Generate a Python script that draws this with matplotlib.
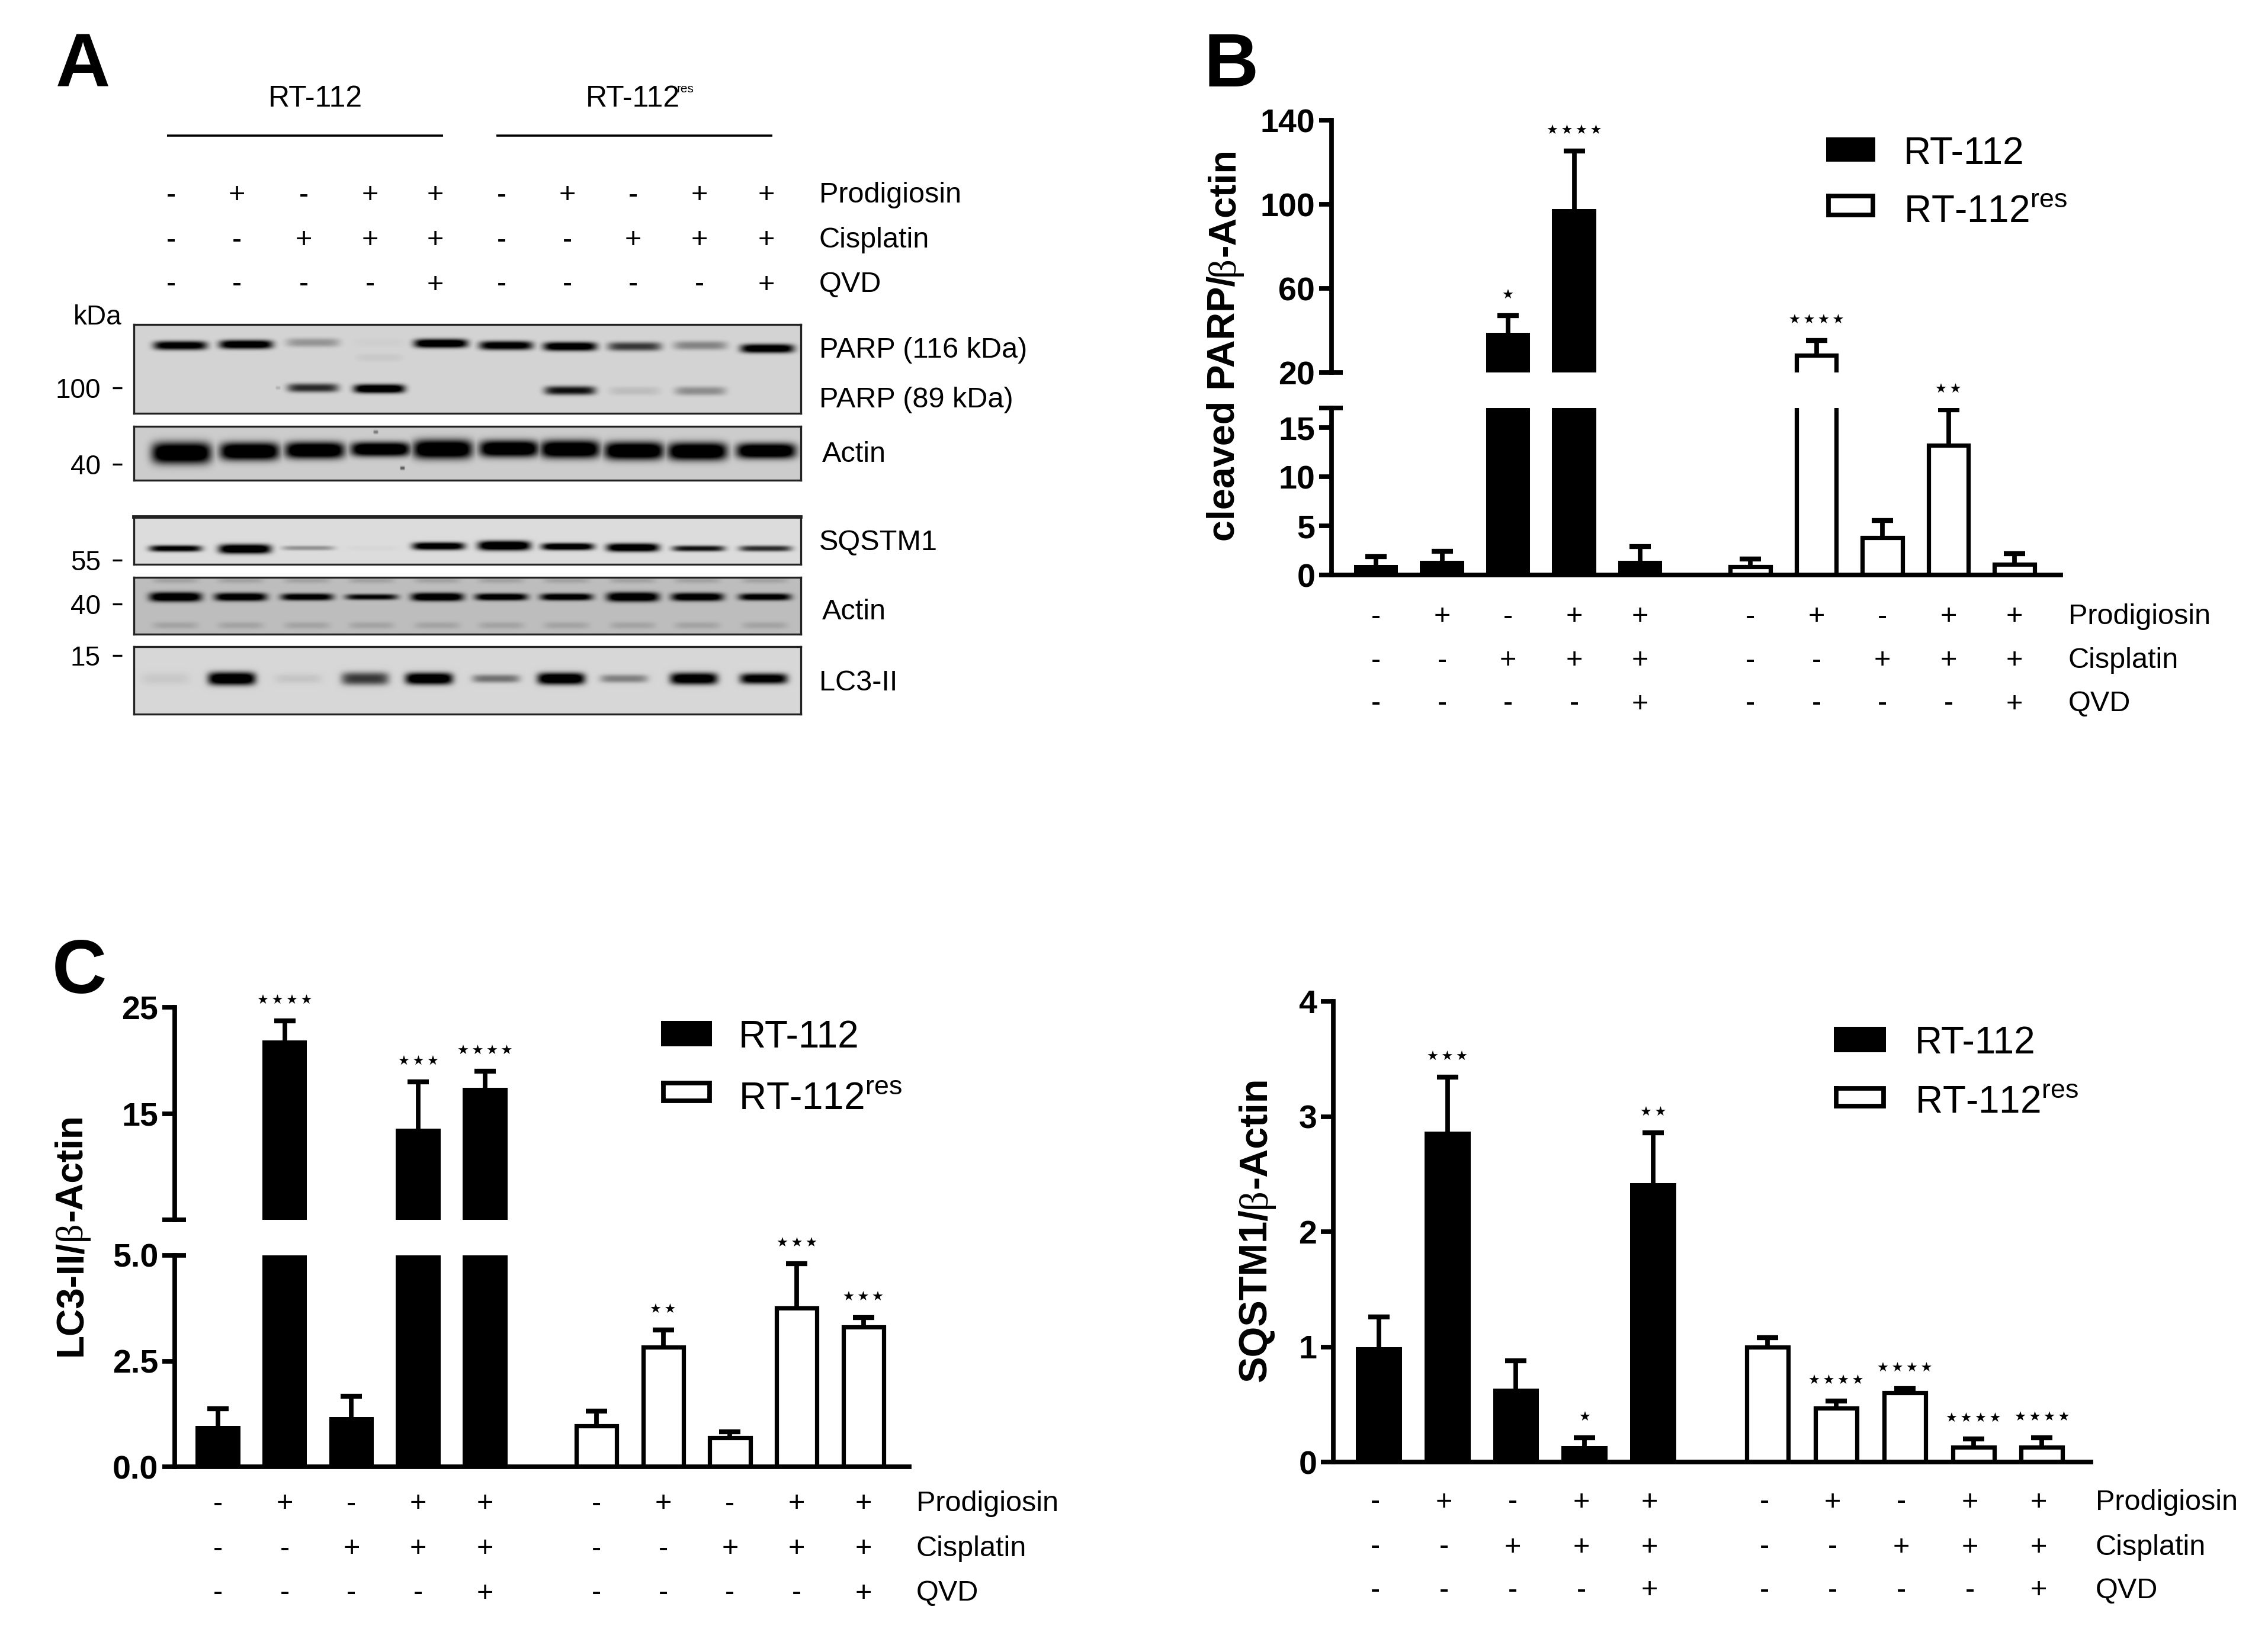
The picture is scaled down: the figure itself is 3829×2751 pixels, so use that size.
import numpy as np
import matplotlib
matplotlib.use("Agg")
import matplotlib.pyplot as plt
from matplotlib.transforms import blended_transform_factory

W, H = 3830, 2751
plt.rcParams['font.family'] = ['Liberation Sans', 'DejaVu Sans']

# ---- treatment rows
prodigiosin = ['-', '+', '-', '+', '+', '-', '+', '-', '+', '+']
cisplatin = ['-', '-', '+', '+', '+', '-', '-', '+', '+', '+']
qvd = ['-', '-', '-', '-', '+', '-', '-', '-', '-', '+']
row_names = ['Prodigiosin', 'Cisplatin', 'QVD']

# ---- panel B, cleaved PARP
parp_k = [1.0, 1.45, 38.8, 97.8, 1.45]
parp_k_err = [0.85, 0.95, 8.2, 27.6, 1.45]
parp_w = [0.85, 28.2, 3.8, 13.2, 1.1]
parp_w_err = [0.8, 7.0, 1.75, 3.6, 1.1]
parp_stars = [0, 0, 1, 4, 0, 0, 4, 0, 2, 0]

# ---- panel C, LC3-II
lc3_k = [0.97, 21.9, 1.17, 13.6, 17.4]
lc3_k_err = [0.4, 1.8, 0.5, 4.4, 1.6]
lc3_w = [0.97, 2.83, 0.69, 3.75, 3.31]
lc3_w_err = [0.35, 0.41, 0.13, 1.05, 0.22]
lc3_stars = [0, 4, 0, 3, 4, 0, 2, 0, 3, 3]

# ---- panel D, SQSTM1
sq_k = [1.0, 2.87, 0.64, 0.14, 2.42]
sq_k_err = [0.26, 0.47, 0.24, 0.07, 0.44]
sq_w = [1.0, 0.47, 0.6, 0.13, 0.13]
sq_w_err = [0.08, 0.06, 0.04, 0.07, 0.08]
sq_stars = [0, 3, 0, 1, 2, 0, 4, 4, 4, 4]

# ---- blot band strength per lane, 0 = nothing, 1 = black
band_parp116 = [0.85, 0.9, 0.22, 0.02, 0.95, 0.85, 0.9, 0.55, 0.28, 0.9]
band_parp89 = [0.0, 0.0, 0.6, 0.95, 0.0, 0.0, 0.7, 0.08, 0.25, 0.0]
band_actin1 = [1.0, 1.0, 1.0, 1.0, 1.0, 1.0, 1.0, 1.0, 1.0, 1.0]
band_sqstm1 = [0.8, 0.95, 0.25, 0.02, 0.9, 1.0, 0.92, 0.95, 0.7, 0.6]
band_actin2 = [0.95, 0.9, 0.85, 0.75, 0.95, 0.9, 0.88, 0.95, 0.9, 0.85]
band_lc3 = [0.05, 0.95, 0.06, 0.55, 0.95, 0.35, 0.95, 0.3, 0.9, 0.85]

group_x = [0, 1, 2, 3, 4, 5.67, 6.67, 7.67, 8.67, 9.67]

fig = plt.figure(figsize=(W / 100, H / 100), dpi=100, facecolor='white')


def px_axes(left, right, top, bottom):
    return fig.add_axes([left / W, 1 - bottom / H, (right - left) / W, (bottom - top) / H])


def draw_blot(top, bottom, bg, bands):
    # bands: (lane x, strengths, y fractions, half heights, half width)
    hh = int(bottom - top)
    ww = 1126
    yy, xx = np.mgrid[0:hh, 0:ww]
    dark = np.zeros((hh, ww))
    for lanes, strengths, yf, half_h, half_w in bands:
        yf = np.broadcast_to(yf, (len(lanes),))
        half_h = np.broadcast_to(half_h, (len(lanes),))
        for cx, s, f, h in zip(lanes, strengths, yf, half_h):
            prof = np.exp(-np.abs((xx - (cx - 226)) / half_w) ** 6) * np.exp(-np.abs((yy - f * hh) / h) ** 2.5)
            dark = np.maximum(dark, np.clip(s * 1.35 * prof, 0, 1))
    ax = px_axes(226, 1352, top, bottom)
    ax.imshow((1 - dark) * bg, cmap='gray', vmin=0, vmax=1, aspect='auto', interpolation='bilinear')
    ax.set_xticks([])
    ax.set_yticks([])
    for s in ax.spines.values():
        s.set_linewidth(2.4)
        s.set_color('#222222')
    return ax


lanes_parp = [304, 415, 528, 640, 744, 854, 962, 1071, 1182, 1295]
lanes_act1 = [306, 421, 531, 642, 747, 859, 962, 1070, 1177, 1293]
lanes_sq = [296, 413, 520, 629, 740, 851, 958, 1068, 1179, 1292]
lanes_act2 = [296, 406, 518, 627, 738, 846, 956, 1068, 1177, 1291]
lanes_lc3 = [279, 391, 503, 616, 724, 837, 947, 1053, 1171, 1289]

draw_blot(548, 698, 0.83, [
    (lanes_parp, band_parp116, [.233, .222, .2, .2, .21, .233, .244, .244, .233, .267], 7.5, 45),
    (lanes_parp, band_parp89, [.71, .71, .71, .72, .71, .74, .74, .745, .745, .74], 7.5, 43),
    (lanes_parp[3:4], [0.04], 0.37, 7, 40),
    ([469], [0.12], 0.71, 3, 4)])
draw_blot(720, 811, 0.80, [
    (lanes_act1, band_actin1, [.49, .46, .44, .42, .42, .41, .42, .45, .46, .45],
     [18, 15, 14, 12, 16, 14, 15, 15, 15, 13], 50),
    ([634], [0.3], 0.1, 3, 4), ([679], [0.4], 0.77, 3, 4)])
b3 = draw_blot(873, 953, 0.86, [
    (lanes_sq, band_sqstm1, [.66, .67, .65, .65, .61, .6, .62, .64, .66, .66], [5.5, 8, 4, 4, 6.5, 8, 6, 7, 5, 5], 44)])
b3.spines['top'].set_linewidth(4.2)
draw_blot(975, 1071, 0.74, [
    (lanes_act2, band_actin2, .34, [8, 7, 6, 5, 7, 6, 6, 8, 7, 6], 44),
    (lanes_act2, [0.1] * 10, 0.05, 5, 38),
    (lanes_act2, [0.1] * 10, 0.84, 6, 38)])
draw_blot(1092, 1206, 0.84, [
    (lanes_lc3, band_lc3, .47, [10, 11, 8, 11, 10, 7, 10, 7, 10, 9], 40)])

# overlay in reference pixels for the free text
ov = fig.add_axes([0, 0, 1, 1], zorder=5)
ov.set_xlim(0, W)
ov.set_ylim(H, 0)
ov.axis('off')
ov.patch.set_alpha(0)

SIGN = 35
ov.text(94, 146, 'A', fontsize=92, fontweight='bold', va='baseline', ha='left')
ov.text(2033, 146, 'B', fontsize=92, fontweight='bold', va='baseline', ha='left')
ov.text(88, 1677, 'C', fontsize=92, fontweight='bold', va='baseline', ha='left')

# panel A texts
ov.text(532, 167, 'RT-112', fontsize=36, ha='center', va='center')
ov.text(989, 167, 'RT-112', fontsize=36, ha='left', va='center')
ov.text(1143, 150, 'res', fontsize=15, ha='left', va='center')
ov.plot([282, 748], [229, 229], color='k', lw=2.6, solid_capstyle='butt')
ov.plot([838, 1304], [229, 229], color='k', lw=2.6, solid_capstyle='butt')

sign_a_x = [289, 400, 513, 625, 735, 847, 958, 1069, 1181, 1294]
for row, yy, name in zip([prodigiosin, cisplatin, qvd], [330, 406, 481], row_names):
    for xx, s in zip(sign_a_x, row):
        ov.text(xx, yy, s, fontsize=SIGN, ha='center', va='center')
    ov.text(1383, yy, name, fontsize=SIGN, ha='left', va='center')

ov.text(206, 536, 'kDa', fontsize=33, ha='right', va='center')
for lab, yy in zip(['100', '40', '55', '40', '15'], [660, 789, 951, 1025, 1112]):
    ov.text(170, yy, lab, fontsize=33, ha='right', va='center')
    ov.plot([190, 206], [yy - 5, yy - 5], color='k', lw=2.4, solid_capstyle='butt')
for lab, xx, yy in [('PARP (116 kDa)', 1383, 591), ('PARP (89 kDa)', 1383, 675), ('Actin', 1388, 768),
                    ('SQSTM1', 1383, 917), ('Actin', 1388, 1033), ('LC3-II', 1383, 1154)]:
    ov.text(xx, yy, lab, fontsize=SIGN, ha='left', va='center')


def ylabel_parts(x, y_bottom, before, after, size):
    # beta comes from a serif regular face, the rest is bold
    r = fig.canvas.get_renderer()
    y = y_bottom
    for txt, weight, fam in [(before, 'bold', 'Liberation Sans'), ('\u03b2', 'normal', 'Liberation Serif'),
                             (after, 'bold', 'Liberation Sans')]:
        t = ov.text(x, y, txt, fontsize=size, fontweight=weight, family=fam, rotation=90, ha='center', va='bottom')
        y -= t.get_window_extent(r).height


LW = 5.6


def panel_axes_style(ax, ticks, labels):
    ax.spines['top'].set_visible(False)
    ax.spines['right'].set_visible(False)
    ax.spines['left'].set_linewidth(LW)
    ax.spines['bottom'].set_linewidth(LW)
    ax.set_xticks([])
    ax.set_yticks(ticks, labels)
    ax.tick_params(axis='y', length=15, width=LW, pad=5, labelsize=40)
    for lab in ax.get_yticklabels():
        lab.set_fontweight('bold')
    ax.patch.set_alpha(0)


def draw_bars(ax, k, k_err, w, w_err, lo=0):
    xk, xw = group_x[:5], group_x[5:]
    ax.bar(xk, k, width=0.67, color='k', linewidth=0)
    for xs, vals, errs in [(xk, k, k_err), (xw, w, w_err)]:
        # whiskers that end below this axis part belong to the other part
        keep = [i for i in range(5) if vals[i] + errs[i] >= lo]
        if not keep:
            continue
        cont = ax.errorbar([xs[i] for i in keep], [vals[i] for i in keep],
                           yerr=[[0] * len(keep), [errs[i] for i in keep]], fmt='none', ecolor='k',
                           elinewidth=LW, capsize=13.3, capthick=LW + 0.4)
        cont[1][0].remove()  # only the upper cap stays
    ax.bar(xw, w, width=0.605, color='white', edgecolor='k', linewidth=LW - 0.4)


def draw_stars(axes_by_limit, k, k_err, w, w_err, stars):
    tops = [a + b for a, b in zip(k + w, k_err + w_err)]
    for xx, top, n in zip(group_x, tops, stars):
        if n == 0:
            continue
        ax = axes_by_limit[0]
        for a in axes_by_limit:
            if top >= a.get_ylim()[0]:
                ax = a
        ax.annotate('\u2009'.join('\u2605' * n), (xx, top), xytext=(0, 24.5), textcoords='offset points', ha='center',
                    va='center', fontsize=16, family='DejaVu Sans', annotation_clip=False)


def draw_signs(ax, rows_y, label_x, dx=0):
    tr = blended_transform_factory(ax.transData, ov.transData)
    for row, yy, name in zip([prodigiosin, cisplatin, qvd], rows_y, row_names):
        for xx, s in zip(group_x, row):
            ov.text(xx + dx, yy, s, fontsize=SIGN, ha='center', va='center', transform=tr)
        ov.text(label_x, yy, name, fontsize=SIGN, ha='left', va='center')


def draw_legend(x0, x1, y_k, y_w, text_x, text_y):
    ov.fill_between([x0, x1], y_k[0], y_k[1], color='k', linewidth=0)
    ov.plot([x0 + 4, x1 - 4, x1 - 4, x0 + 4, x0 + 4], [y_w[0] + 4, y_w[0] + 4, y_w[1] - 4, y_w[1] - 4, y_w[0] + 4],
            color='k', lw=LW, solid_joinstyle='miter')
    ov.text(text_x, text_y[0], 'RT-112', fontsize=46, ha='left', va='center')
    ov.text(text_x, text_y[1], 'RT-112$^{\\mathregular{res}}$', fontsize=46, ha='left', va='center')


def broken_panel(left, right, y_px, up_lim, low_lim, up_ticks, up_labels, low_ticks, low_labels, x_first, x_step,
                 k, k_err, w, w_err, stars):
    # y_px: top of upper, bottom of upper, top of lower, zero line
    xlim = ((left - x_first) / x_step, (right - x_first) / x_step)
    up = px_axes(left, right, y_px[0], y_px[1])
    low = px_axes(left, right, y_px[2], y_px[3])
    for ax, lim, ticks, labels in [(up, up_lim, up_ticks, up_labels), (low, low_lim, low_ticks, low_labels)]:
        draw_bars(ax, k, k_err, w, w_err, lo=lim[0])
        ax.set_xlim(*xlim)
        ax.set_ylim(*lim)
        panel_axes_style(ax, ticks, labels)
    up.spines['bottom'].set_visible(False)
    # caps on the two sides of the axis break
    up.yaxis.remove_overlapping_locs = False
    low.yaxis.remove_overlapping_locs = False
    up.set_yticks([up_lim[0]], minor=True)
    low.set_yticks([low_lim[1]], minor=True)
    for ax in (up, low):
        ax.tick_params(axis='y', which='minor', direction='in', length=14, width=LW)
    draw_stars([low, up], k, k_err, w, w_err, stars)
    return up, low


# panel B
b_up, b_low = broken_panel(2248, 3479, (203, 629, 689, 971), (20, 140), (0, 17),
                           [20, 60, 100, 140], ['20', '60', '100', '140'],
                           [0, 5, 10, 15, 17], ['0', '5', '10', '15', ''], 2323, 111.5,
                           parp_k, parp_k_err, parp_w, parp_w_err, parp_stars)
draw_signs(b_low, [1042, 1116, 1189], 3492)
draw_legend(3083, 3166, (232, 273), (327, 367), 3214, (260, 358))
ylabel_parts(2067, 914, 'cleaved PARP/', '-Actin', 46.5)

# panel C
c_up, c_low = broken_panel(295, 1535, (1701, 2060, 2120, 2477), (5, 25), (0, 5),
                           [5, 15, 25], ['', '15', '25'],
                           [0, 2.5, 5], ['0.0', '2.5', '5.0'], 368, 112.7,
                           lc3_k, lc3_k_err, lc3_w, lc3_w_err, lc3_stars)
draw_signs(c_low, [2540, 2616, 2691], 1547)
draw_legend(1116, 1202, (1724, 1767), (1825, 1863), 1247, (1752, 1856))
ylabel_parts(120, 2290, 'LC3-II/', '-Actin', 46)

# panel D, no break here
d = px_axes(2251, 3530, 1691, 2469)
draw_bars(d, sq_k, sq_k_err, sq_w, sq_w_err)
d.set_xlim((2251 - 2328) / 115.75, (3530 - 2328) / 115.75)
d.set_ylim(0, 4)
panel_axes_style(d, [0, 1, 2, 3, 4], ['0', '1', '2', '3', '4'])
draw_stars([d], sq_k, sq_k_err, sq_w, sq_w_err, sq_stars)
draw_signs(d, [2537, 2613, 2686], 3538, dx=-0.05)
draw_legend(3096, 3184, (1734, 1777), (1834, 1872), 3233, (1762, 1862))
ylabel_parts(2120, 2334, 'SQSTM1/', '-Actin', 48)

fig.savefig('out.png', dpi=100)
